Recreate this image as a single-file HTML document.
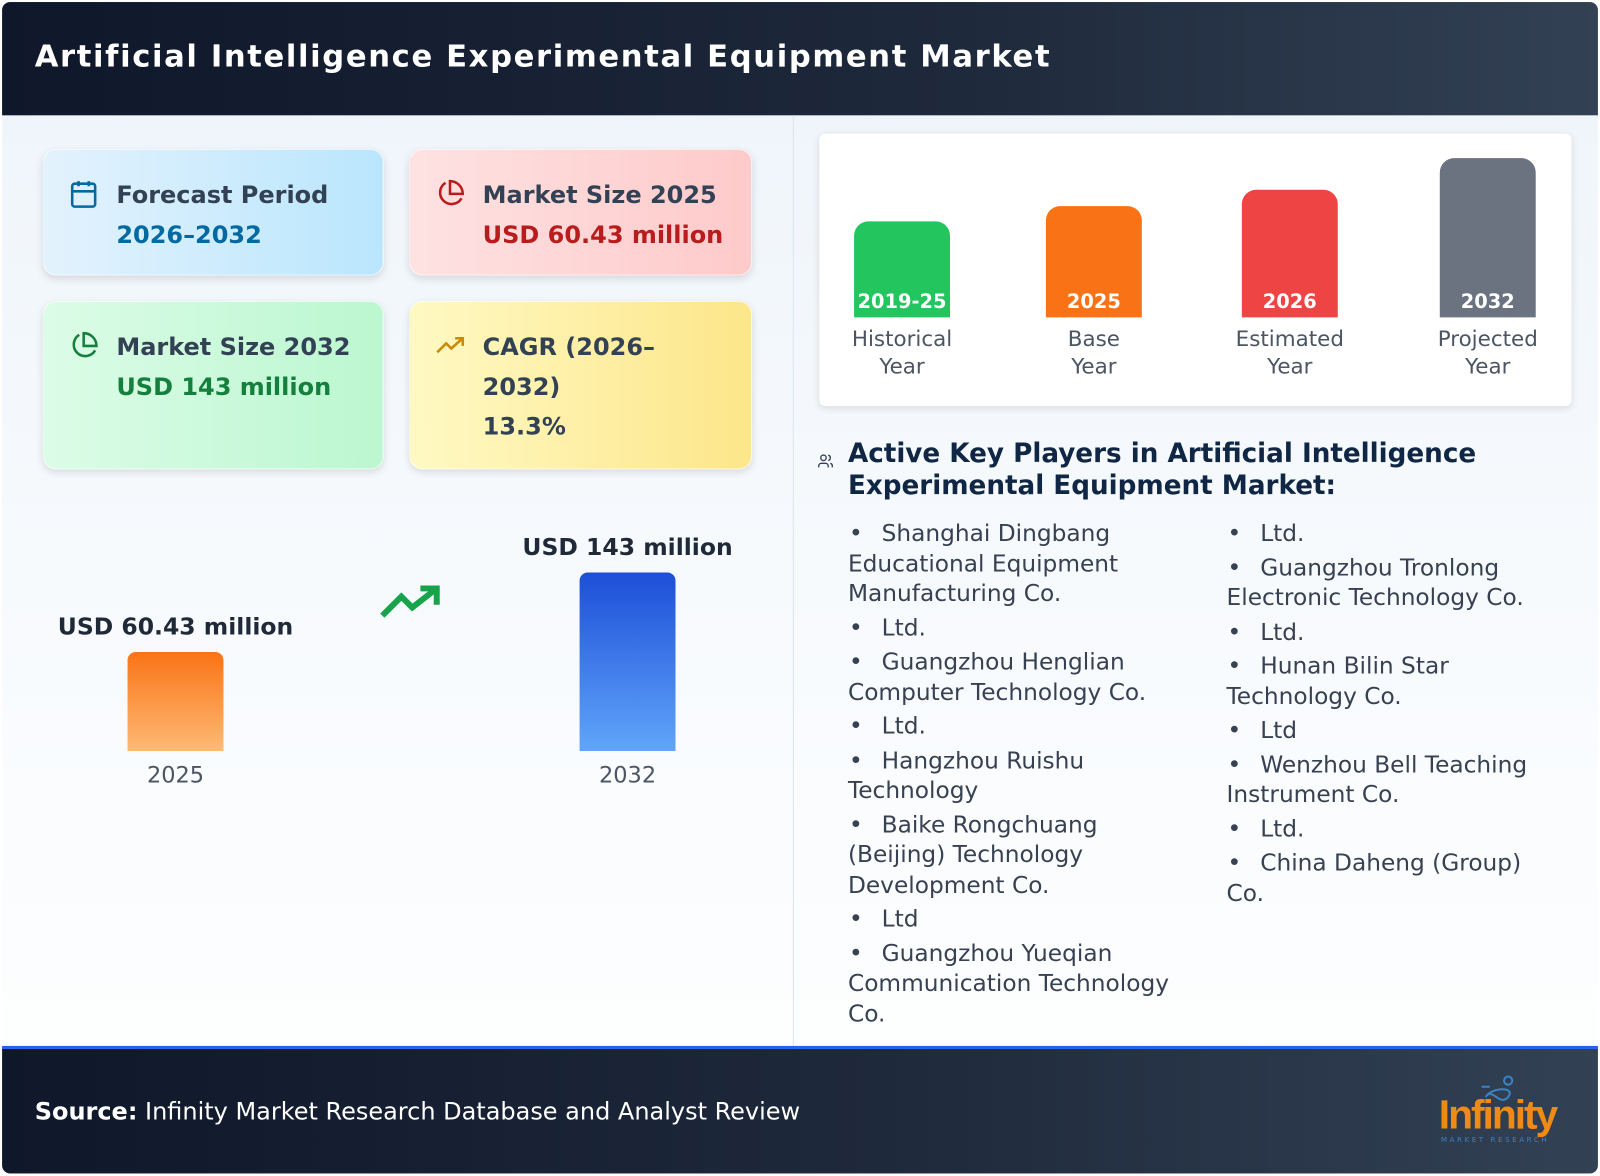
<!DOCTYPE html>
<html><head><meta charset="utf-8">
<style>
*{box-sizing:border-box;margin:0;padding:0}
html,body{width:1600px;height:1176px;overflow:hidden;background:#fff;font-family:"DejaVu Sans","Liberation Sans",sans-serif}
#wrap{position:absolute;left:0;top:0;width:1568px;height:1152px;transform:scale(1.020408);transform-origin:0 0}
#frame{position:absolute;left:2px;top:2px;width:1564px;height:1148px;border-radius:8px;overflow:hidden;background:linear-gradient(180deg,#eef4fa 0%,#f7fafd 50%,#ffffff 100%)}
.abs{position:absolute}
#header{left:0;top:0;width:1564px;height:111px;background:linear-gradient(90deg,#0f172a 0%,#1e293b 60%,#334155 100%)}
#title{left:32px;top:36px;color:#fff;font-weight:bold;font-size:30px;letter-spacing:1.6px;white-space:nowrap}
#divider{left:775px;top:111px;width:1px;height:912px;background:#dbe3ec}
.card{position:absolute;border-radius:13px;box-shadow:0 3px 8px rgba(0,0,0,0.12);border:1px solid rgba(255,255,255,0.6)}
.card .lab{position:absolute;left:71px;top:25px;font-weight:bold;font-size:23.5px;color:#334155;line-height:39px}
.card .val{font-weight:bold;font-size:23.5px}
.card svg{position:absolute;left:24px;top:28px}
.bar{position:absolute}
.yr{position:absolute;font-size:22px;color:#4b5563;text-align:center;width:120px}
.vl{position:absolute;font-size:23px;font-weight:bold;color:#1f2937;text-align:center;white-space:nowrap;width:300px}
#panel{left:801px;top:129px;width:737px;height:267px;background:#fff;border-radius:6px;box-shadow:0 2px 8px rgba(0,0,0,0.12)}
.sbar{position:absolute;width:94px;border-radius:14px 14px 0 0;color:#fff;font-weight:bold;font-size:19px;text-align:center}
.sbar span{position:absolute;bottom:4px;left:0;width:100%}
.cap{position:absolute;width:160px;text-align:center;font-size:21px;color:#4b5563;line-height:27px}
#kp-title{left:829px;top:428px;font-weight:bold;font-size:25.7px;color:#0f2744;line-height:31px}
.col{position:absolute;width:360px;font-size:22.8px;color:#374151;line-height:29.5px}
.col div{margin-bottom:4px}
.col b{font-weight:normal;display:inline-block;width:33px;padding-left:1px}
#footer{left:0;top:1023px;width:1564px;height:125px;background:linear-gradient(90deg,#0f172a 0%,#1e293b 55%,#334155 100%);border-top:3px solid #2563eb}
#source{left:32px;top:47px;color:#fff;font-size:23.5px;white-space:nowrap}
</style></head>
<body>
<div id="wrap">
<div id="frame">
 <div id="header" class="abs">
  <div id="title" class="abs">Artificial Intelligence Experimental Equipment Market</div>
 </div>
 <div id="divider" class="abs"></div>

 <div class="card" style="left:40px;top:144px;width:334px;height:124px;background:linear-gradient(90deg,#e3f2fd,#bae6fd)">
  <svg width="30" height="30" viewBox="0 0 24 24" fill="none" stroke="#0369a1" stroke-width="2"><rect x="3" y="4" width="18" height="18" rx="2"/><line x1="3" y1="10" x2="21" y2="10"/><line x1="8" y1="2" x2="8" y2="6"/><line x1="16" y1="2" x2="16" y2="6"/></svg>
  <div class="lab">Forecast Period<br><span class="val" style="color:#0369a1">2026–2032</span></div>
 </div>
 <div class="card" style="left:399px;top:144px;width:336px;height:124px;background:linear-gradient(90deg,#fee2e2,#fecaca)">
  <svg width="30" height="30" viewBox="0 0 24 24" fill="none" stroke="#b91c1c" stroke-width="2"><path d="M21 15.5A9 9 0 1 1 8.5 3.3"/><path d="M22 12A10 10 0 0 0 12 2v10z"/></svg>
  <div class="lab">Market Size 2025<br><span class="val" style="color:#b91c1c">USD 60.43 million</span></div>
 </div>
 <div class="card" style="left:40px;top:293px;width:334px;height:165px;background:linear-gradient(90deg,#dcfce7,#bbf7d0)">
  <svg width="30" height="30" viewBox="0 0 24 24" fill="none" stroke="#15803d" stroke-width="2"><path d="M21 15.5A9 9 0 1 1 8.5 3.3"/><path d="M22 12A10 10 0 0 0 12 2v10z"/></svg>
  <div class="lab">Market Size 2032<br><span class="val" style="color:#15803d">USD 143 million</span></div>
 </div>
 <div class="card" style="left:399px;top:293px;width:336px;height:165px;background:linear-gradient(90deg,#fef9c3,#fde68a)">
  <svg width="30" height="30" viewBox="0 0 24 24" fill="none" stroke="#ca8a04" stroke-width="2"><polyline points="2 17 9 10 13 14 22 6"/><polyline points="16 6 22 6 22 12"/></svg>
  <div class="lab">CAGR (2026–<br>2032)<br>13.3%</div>
 </div>

 <div id="leftchart" class="abs" style="left:0;top:0;width:775px;height:1023px">
  <svg class="abs" style="left:370px;top:568px" width="64" height="40" viewBox="0 0 24 14" fill="none" stroke="#16a34a" stroke-width="2.2"><polyline points="1 12 8 5 12 9 21 2"/><polyline points="15 2 21 2 21 8"/></svg>
 </div>

 <div id="panel" class="abs"></div>

 <svg class="abs" style="left:799px;top:442px" width="16" height="16" viewBox="0 0 24 24" fill="none" stroke="#334155" stroke-width="2"><circle cx="9" cy="7" r="4"/><path d="M2 21v-2a4 4 0 0 1 4-4h6a4 4 0 0 1 4 4v2"/><path d="M16 3.1a4 4 0 0 1 0 7.8"/><path d="M22 21v-2a4 4 0 0 0-3-3.9"/></svg>
 <div id="kp-title" class="abs">Active Key Players in Artificial Intelligence<br>Experimental Equipment Market:</div>

 <div class="col" style="left:829px;top:507px">
  <div><b>•</b>Shanghai Dingbang<br>Educational Equipment<br>Manufacturing Co.</div>
  <div><b>•</b>Ltd.</div>
  <div><b>•</b>Guangzhou Henglian<br>Computer Technology Co.</div>
  <div><b>•</b>Ltd.</div>
  <div><b>•</b>Hangzhou Ruishu<br>Technology</div>
  <div><b>•</b>Baike Rongchuang<br>(Beijing) Technology<br>Development Co.</div>
  <div><b>•</b>Ltd</div>
  <div><b>•</b>Guangzhou Yueqian<br>Communication Technology<br>Co.</div>
 </div>
 <div class="col" style="left:1200px;top:507px">
  <div><b>•</b>Ltd.</div>
  <div><b>•</b>Guangzhou Tronlong<br>Electronic Technology Co.</div>
  <div><b>•</b>Ltd.</div>
  <div><b>•</b>Hunan Bilin Star<br>Technology Co.</div>
  <div><b>•</b>Ltd</div>
  <div><b>•</b>Wenzhou Bell Teaching<br>Instrument Co.</div>
  <div><b>•</b>Ltd.</div>
  <div><b>•</b>China Daheng (Group)<br>Co.</div>
 </div>

 <div id="footer" class="abs">
  <div id="source" class="abs"><b>Source:</b> Infinity Market Research Database and Analyst Review</div>
  <div class="abs" style="left:1408px;top:25px;width:130px;height:70px">
   <svg class="abs" style="left:38px;top:0" width="50" height="34" viewBox="0 0 50 34" fill="none" stroke="#3b82c4" stroke-width="2"><path d="M8 22c6-10 14 10 22 0s-16-10-22 0"/><circle cx="30" cy="6" r="4"/><path d="M4 12h8"/></svg>
   <div class="abs" style="left:0;top:18px;color:#f08a17;font-weight:bold;font-size:40px;letter-spacing:-2px;font-family:'Liberation Sans Narrow','Liberation Sans',sans-serif">Infinity</div>
   <div class="abs" style="left:2px;top:60px;color:#3b82c4;font-size:7px;letter-spacing:2.5px">MARKET RESEARCH</div>
  </div>
 </div>
</div>
</div>
<script>
// left comparison chart data
const sizeYears = ["2025", "2032"];
const sizeValues = [60.43, 143];
const sizeLabels = ["USD 60.43 million", "USD 143 million"];
// timeline panel data
const stageLabels = ["2019-25", "2025", "2026", "2032"];
const stageCaptions = [["Historical","Year"],["Base","Year"],["Estimated","Year"],["Projected","Year"]];
const stageValues = [3, 3.5, 4, 5];

(function(){
  const lc = document.getElementById('leftchart');
  const base = 734, xs = [123, 566];
  const h = v => 40 + v * 0.9447;
  const grads = ['linear-gradient(180deg,#f97316,#fdba74)','linear-gradient(180deg,#1d4ed8,#60a5fa)'];
  sizeValues.forEach((v,i)=>{
    const bh = h(v), x = xs[i % xs.length];
    const b = document.createElement('div');
    b.className = 'bar';
    
    
    b.style.cssText = `left:${x}px;top:${base-bh}px;width:94px;height:${bh}px;border-radius:8px 8px 0 0;background:${grads[i%2]}`;
    lc.appendChild(b);
    const l = document.createElement('div');
    l.className = 'vl';
    
    
    l.textContent = sizeLabels[i];
    l.style.left = (x + 47 - 150) + 'px';
    l.style.top = (base - bh - 37) + 'px';
    lc.appendChild(l);
    const y = document.createElement('div');
    y.className = 'yr';
    
    
    y.textContent = sizeYears[i];
    y.style.left = (x + 47 - 60) + 'px';
    y.style.top = (base + 12) + 'px';
    lc.appendChild(y);
  });

  const p = document.getElementById('panel');
  const pbase = 180, colors = ['#22c55e','#f97316','#ef4444','#6b7280'];
  const px = [34, 222, 414, 608];
  stageValues.forEach((v,i)=>{
    const bh = v * 31.2;
    const b = document.createElement('div');
    b.className = 'sbar';
    
    
    b.style.cssText = `left:${px[i]}px;top:${pbase-bh}px;height:${bh}px;background:${colors[i]}`;
    const s = document.createElement('span');
    s.textContent = stageLabels[i];
    b.appendChild(s);
    p.appendChild(b);
    const c = document.createElement('div');
    c.className = 'cap';
    
    
    c.innerHTML = stageCaptions[i].join('<br>');
    c.style.left = (px[i] + 47 - 80) + 'px';
    c.style.top = (pbase + 8) + 'px';
    p.appendChild(c);
  });
})();
</script>
</body></html>
